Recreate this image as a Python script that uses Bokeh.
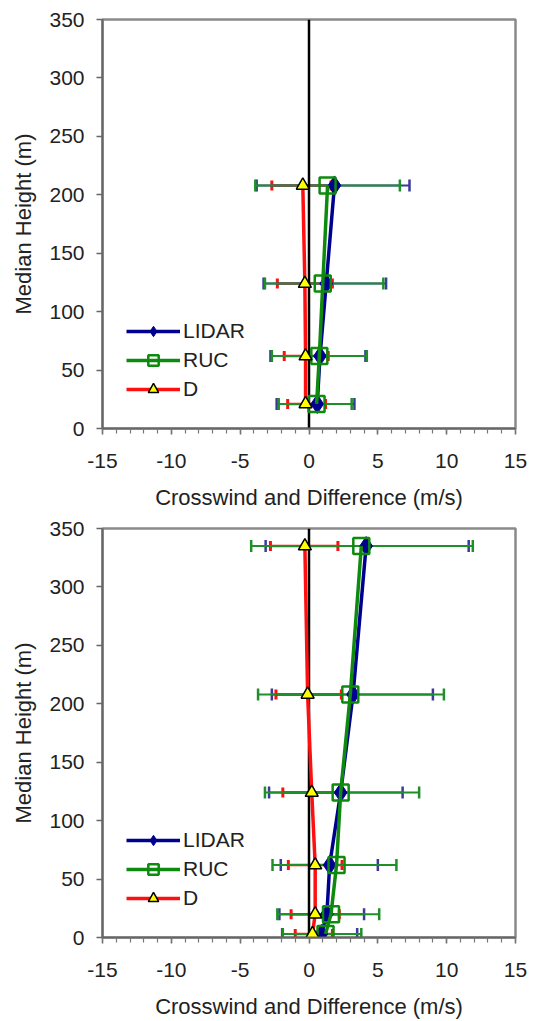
from bokeh.plotting import figure
from bokeh.layouts import column
from bokeh.models import (ColumnDataSource, Whisker, TeeHead, FixedTicker, SingleIntervalTicker,
                          Legend, LegendItem, Range1d)
from bokeh.embed import file_html
from bokeh.resources import INLINE

# ---- data: top panel ----
top_height = [21, 62, 124, 208]
top_lidar = [0.6, 0.8, 1.25, 1.85]
top_lidar_lo = [-2.35, -2.8, -3.3, -3.8]
top_lidar_hi = [3.3, 4.1, 5.6, 7.3]
top_ruc = [0.55, 0.75, 1.0, 1.35]
top_ruc_lo = [-2.2, -2.7, -3.2, -3.9]
top_ruc_hi = [3.1, 4.2, 5.4, 6.6]
top_d = [-0.25, -0.25, -0.3, -0.45]
top_d_lo = [-1.55, -1.8, -2.3, -2.7]
top_d_hi = [1.2, 1.4, 1.7, 1.6]

# ---- data: bottom panel ----
bot_height = [3, 20, 62, 124, 208, 335]
bot_lidar = [0.9, 1.3, 1.5, 2.3, 3.2, 4.15]
bot_lidar_lo = [-1.95, -2.15, -2.05, -2.9, -2.7, -3.15]
bot_lidar_hi = [3.5, 4.0, 5.0, 6.8, 9.0, 11.6]
bot_ruc = [1.2, 1.6, 2.0, 2.3, 3.0, 3.8]
bot_ruc_lo = [-1.9, -2.3, -2.65, -3.2, -3.7, -4.2]
bot_ruc_hi = [3.8, 5.1, 6.35, 8.0, 9.8, 11.9]
bot_d = [0.25, 0.45, 0.45, 0.2, -0.1, -0.3]
bot_d_lo = [-1.0, -1.3, -1.5, -1.9, -2.4, -2.8]
bot_d_hi = [1.7, 2.2, 2.4, 2.3, 2.35, 2.1]

x_ticks = [-15, -10, -5, 0, 5, 10, 15]
x_tick_labels = ["-15", "-10", "-5", "0", "5", "10", "15"]
y_ticks = [0, 50, 100, 150, 200, 250, 300, 350]
x_title = "Crosswind and Difference (m/s)"
y_title = "Median Height (m)"
series_names = ["LIDAR", "RUC", "D"]

FONT = "Liberation Sans"
C_LIDAR = "#000090"
C_LIDAR_ERR = "#3a3a9a"
C_RUC = "#0e8a0e"
C_RUC_ERR = "#1f8f2a"
C_D = "#ff1010"


def make_fig(h, li, li_lo, li_hi, ru, ru_lo, ru_hi, d, d_lo, d_hi, height, top_border, bottom_border):
    p = figure(width=533, height=height, output_backend="svg", toolbar_location=None,
               x_range=Range1d(-15, 15), y_range=Range1d(0, 350),
               min_border_left=102, min_border_right=18,
               min_border_top=top_border, min_border_bottom=bottom_border)
    p.grid.visible = False
    p.background_fill_color = "white"
    p.border_fill_color = "white"
    p.outline_line_color = "#8a8a8a"
    p.outline_line_width = 2.5

    p.xaxis.ticker = SingleIntervalTicker(interval=5, num_minor_ticks=5)
    p.yaxis.ticker = FixedTicker(ticks=y_ticks, minor_ticks=[])
    p.xaxis.major_label_overrides = {t: s for t, s in zip(x_ticks, x_tick_labels)}
    for ax in (p.xaxis, p.yaxis):
        ax.major_label_text_font = FONT
        ax.major_label_text_font_size = "21px"
        ax.major_label_text_color = "#222222"
        ax.axis_label_text_font = FONT
        ax.axis_label_text_font_size = "22px"
        ax.axis_label_text_font_style = "normal"
        ax.axis_label_text_color = "#222222"
        ax.axis_line_color = "#666666"
        ax.axis_line_width = 2
        ax.major_tick_line_color = "#666666"
        ax.major_tick_line_width = 1.5
        ax.major_tick_out = 6
        ax.major_tick_in = 0
        ax.minor_tick_line_color = "#777777"
        ax.minor_tick_line_width = 1.2
        ax.minor_tick_out = 5
        ax.minor_tick_in = 0
    p.xaxis.axis_label = x_title
    p.yaxis.axis_label = y_title
    p.xaxis.major_label_standoff = 19
    p.xaxis.axis_label_standoff = 14
    p.yaxis.major_label_standoff = 12
    p.yaxis.axis_label_standoff = 10

    # zero line
    p.line([0, 0], [0, 350], line_color="black", line_width=2.5)

    def add_err(x_lo, x_hi, color, lw, size):
        src = ColumnDataSource(dict(base=h, lower=x_lo, upper=x_hi))
        w = Whisker(base="base", lower="lower", upper="upper", dimension="width", source=src,
                    line_color=color, line_width=lw,
                    upper_head=TeeHead(size=size, line_color=color, line_width=lw + 0.5),
                    lower_head=TeeHead(size=size, line_color=color, line_width=lw + 0.5))
        p.add_layout(w)

    add_err(d_lo, d_hi, C_D, 2.5, 10)
    add_err(li_lo, li_hi, C_LIDAR_ERR, 2, 12)
    add_err(ru_lo, ru_hi, C_RUC_ERR, 2, 12)

    r1 = p.line(li, h, line_color=C_LIDAR, line_width=3.5)
    r1m = p.scatter(li, h, marker="diamond", size=19, fill_color=C_LIDAR, line_color=C_LIDAR)
    r2 = p.line(ru, h, line_color=C_RUC, line_width=3.5)
    r2m = p.scatter(ru, h, marker="square", size=16, fill_alpha=0, line_color=C_RUC, line_width=2.5)
    r3 = p.line(d, h, line_color=C_D, line_width=3.5)
    r3m = p.scatter(d, h, marker="triangle", size=13, fill_color="#ffff00", line_color="black", line_width=1.5)

    legend = Legend(items=[LegendItem(label=series_names[0], renderers=[r1, r1m]),
                           LegendItem(label=series_names[1], renderers=[r2, r2m]),
                           LegendItem(label=series_names[2], renderers=[r3, r3m])],
                    location=(24, 26), background_fill_alpha=0, border_line_alpha=0,
                    label_text_font=FONT, label_text_font_size="21px", label_text_color="#222222",
                    glyph_width=54, glyph_height=26, label_height=26, spacing=3,
                    padding=0, margin=0, label_standoff=3)
    p.add_layout(legend)
    return p


p1 = make_fig(top_height, top_lidar, top_lidar_lo, top_lidar_hi, top_ruc, top_ruc_lo, top_ruc_hi,
              top_d, top_d_lo, top_d_hi, 512, 19, 84)
p2 = make_fig(bot_height, bot_lidar, bot_lidar_lo, bot_lidar_hi, bot_ruc, bot_ruc_lo, bot_ruc_hi,
              bot_d, bot_d_lo, bot_d_hi, 509, 16, 84)

layout = column(p1, p2, spacing=0)
open("out.html", "w").write(file_html(layout, INLINE))
